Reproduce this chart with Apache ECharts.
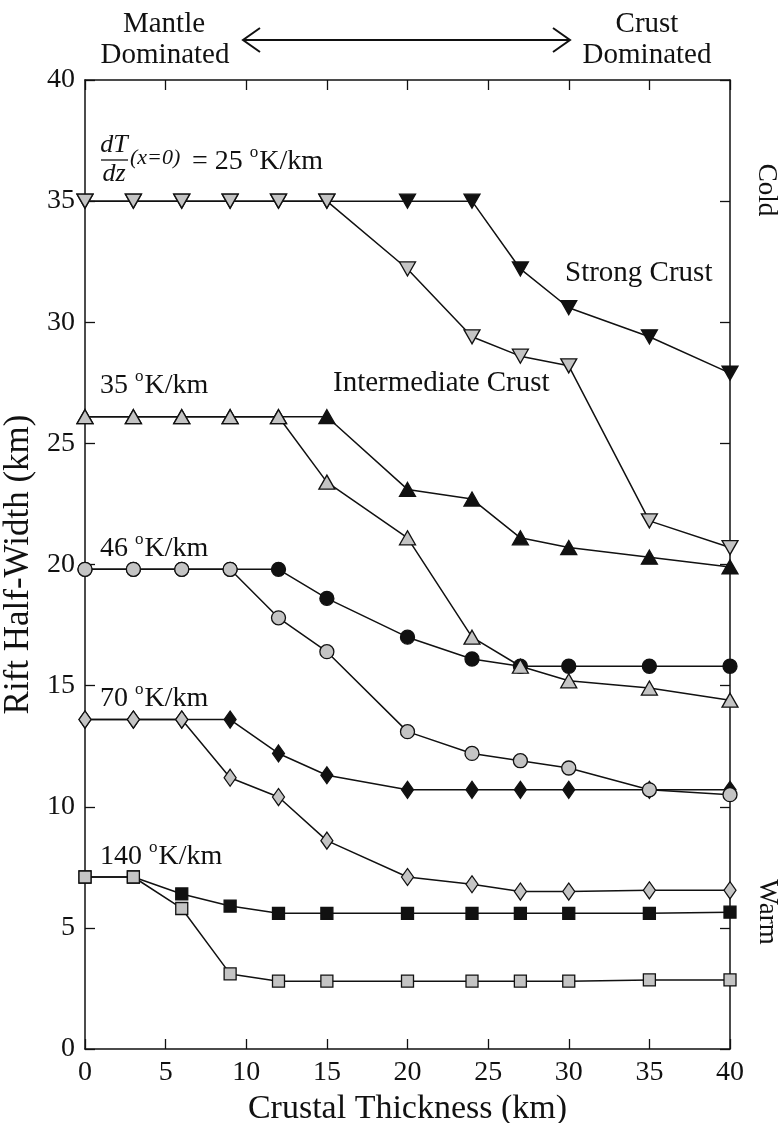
<!DOCTYPE html>
<html><head><meta charset="utf-8">
<script src="https://cdn.jsdelivr.net/npm/echarts@6/dist/echarts.min.js"></script>
<style>html,body{margin:0;padding:0;background:#fff}#c{width:783px;height:1123px}</style>
</head><body><div id="c"></div>
<script>
// Crustal thickness sampled by the models (km)
const thickness = [0, 3, 6, 9, 12, 15, 20, 24, 27, 30, 35, 40];
const yTicks = [0, 5, 10, 15, 20, 25, 30, 35, 40];

// Rift half-width (km) for each basal thermal gradient
const strong25 = [35, 35, 35, 35, 35, 35, 35, 35, 32.2, 30.6, 29.4, 27.9];
const inter25  = [35, 35, 35, 35, 35, 35, 32.2, 29.4, 28.6, 28.2, 21.8, 20.7];
const strong35 = [26.1, 26.1, 26.1, 26.1, 26.1, 26.1, 23.1, 22.7, 21.1, 20.7, 20.3, 19.9];
const inter35  = [26.1, 26.1, 26.1, 26.1, 26.1, 23.4, 21.1, 17.0, 15.8, 15.2, 14.9, 14.4];
const strong46 = [19.8, 19.8, 19.8, 19.8, 19.8, 18.6, 17.0, 16.1, 15.8, 15.8, 15.8, 15.8];
const inter46  = [19.8, 19.8, 19.8, 19.8, 17.8, 16.4, 13.1, 12.2, 11.9, 11.6, 10.7, 10.5];
const strong70 = [13.6, 13.6, 13.6, 13.6, 12.2, 11.3, 10.7, 10.7, 10.7, 10.7, 10.7, 10.7];
const inter70  = [13.6, 13.6, 13.6, 11.2, 10.4, 8.6, 7.1, 6.8, 6.5, 6.5, 6.55, 6.55];
const strong140 = [7.1, 7.1, 6.4, 5.9, 5.6, 5.6, 5.6, 5.6, 5.6, 5.6, 5.6, 5.65];
const inter140  = [7.1, 7.1, 5.8, 3.1, 2.8, 2.8, 2.8, 2.8, 2.8, 2.8, 2.85, 2.85];

const FAMILY = 'Liberation Serif';
const FONT = '"Liberation Serif", serif';
const GRAY = '#c4c4c4';
const INK = '#111';

function pairs(ys) { return thickness.map((x, i) => [x, ys[i]]); }

function curve(name, ys, symbol, size, fill, rotate) {
  return {
    name, type: 'line', data: pairs(ys),
    symbol, symbolSize: size, symbolRotate: rotate || 0,
    showAllSymbol: true,
    lineStyle: { color: INK, width: 1.5 },
    itemStyle: { color: fill, borderColor: INK, borderWidth: 1.3 },
    emphasis: { disabled: true },
    z: fill === GRAY ? 3 : 2
  };
}

const series = [
  curve('Strong 25', strong25, 'triangle', [16, 14], INK, 180),
  curve('Intermediate 25', inter25, 'triangle', [16, 14], GRAY, 180),
  curve('Strong 35', strong35, 'triangle', [16, 14], INK),
  curve('Intermediate 35', inter35, 'triangle', [16, 14], GRAY),
  curve('Strong 46', strong46, 'circle', 14, INK),
  curve('Intermediate 46', inter46, 'circle', 14, GRAY),
  curve('Strong 70', strong70, 'diamond', [12, 17], INK),
  curve('Intermediate 70', inter70, 'diamond', [12, 17], GRAY),
  curve('Strong 140', strong140, 'rect', 12, INK),
  curve('Intermediate 140', inter140, 'rect', 12, GRAY)
];

const axisCommon = {
  type: 'value', min: 0, max: 40, interval: 5,
  axisLine: { show: true, onZero: false, lineStyle: { color: INK, width: 1.5 } },
  axisTick: { show: true, inside: true, length: 10, lineStyle: { color: INK, width: 1.3 } },
  splitLine: { show: false }
};

const tickLabel = { fontFamily: FAMILY, fontSize: 28, color: INK, margin: 10 };

const txt = (x, y, text, size, extra) => ({
  type: 'text', x, y, z: 10,
  style: Object.assign({ text, font: `${size}px ${FONT}`, fill: INK }, extra || {})
});

// "NN °K/km" label with a raised small "o"
const gradLabel = (x, y, n) => ({
  type: 'text', x, y, z: 10,
  style: {
    text: `{n|${n} }{s|o}{n|K/km}`,
    textVerticalAlign: 'middle',
    rich: {
      n: { font: `28px ${FONT}`, fill: INK, lineHeight: 32, verticalAlign: 'bottom' },
      s: { font: `17px ${FONT}`, fill: INK, lineHeight: 32, verticalAlign: 'top', padding: [0, 1, 0, 0] }
    }
  }
});

const centered = { textAlign: 'center', textVerticalAlign: 'middle' };

const chart = echarts.init(document.getElementById('c'), null, { renderer: 'canvas' });
chart.setOption({
  backgroundColor: '#fff',
  animation: false,
  textStyle: { fontFamily: FAMILY },
  grid: { left: 85, right: 53, top: 80, bottom: 74, containLabel: false, outerBoundsMode: 'none' },
  xAxis: [
    Object.assign({}, axisCommon, {
      position: 'bottom',
      name: 'Crustal Thickness (km)', nameLocation: 'middle', nameGap: 36,
      nameTextStyle: { fontFamily: FAMILY, fontSize: 34, color: INK },
      axisLabel: Object.assign({}, tickLabel)
    }),
    Object.assign({}, axisCommon, { position: 'top', axisLabel: { show: false } })
  ],
  yAxis: [
    Object.assign({}, axisCommon, {
      position: 'left',
      name: 'Rift Half-Width (km)', nameLocation: 'middle', nameGap: 46,
      nameTextStyle: { fontFamily: FAMILY, fontSize: 35, color: INK },
      axisLabel: Object.assign({}, tickLabel, {
        formatter: v => yTicks.includes(v) ? String(v) : '' })
    }),
    Object.assign({}, axisCommon, { position: 'right', axisLabel: { show: false } })
  ],
  series,
  graphic: [
    txt(164, 24, 'Mantle', 29, centered),
    txt(165, 55, 'Dominated', 29, centered),
    txt(647, 24, 'Crust', 29, centered),
    txt(647, 55, 'Dominated', 29, centered),
    { type: 'line', z: 10, shape: { x1: 243, y1: 40, x2: 570, y2: 40 }, style: { stroke: INK, lineWidth: 2 } },
    { type: 'polyline', z: 10, shape: { points: [[260, 28], [243, 40], [260, 52]] }, style: { stroke: INK, lineWidth: 2, fill: null } },
    { type: 'polyline', z: 10, shape: { points: [[553, 28], [570, 40], [553, 52]] }, style: { stroke: INK, lineWidth: 2, fill: null } },
    // gradient formula label
    txt(114, 145, 'dT', 26, Object.assign({ font: `italic 26px ${FONT}` }, centered)),
    { type: 'line', z: 10, shape: { x1: 101, y1: 160, x2: 128, y2: 160 }, style: { stroke: INK, lineWidth: 1.3 } },
    txt(114, 174, 'dz', 26, Object.assign({ font: `italic 26px ${FONT}` }, centered)),
    txt(130, 158, '(x=0)', 22, { textVerticalAlign: 'middle', font: `italic 22px ${FONT}` }),
    gradLabel(192, 160, '= 25'),
    gradLabel(100, 384, '35'),
    gradLabel(100, 547, '46'),
    gradLabel(100, 697, '70'),
    gradLabel(100, 855, '140'),
    txt(565, 273, 'Strong Crust', 29, { textVerticalAlign: 'middle' }),
    txt(333, 383, 'Intermediate Crust', 29, { textVerticalAlign: 'middle' }),
    { type: 'text', x: 766, y: 190, rotation: -Math.PI / 2, z: 10,
      style: { text: 'Cold', font: `27px ${FONT}`, fill: INK, textAlign: 'center', textVerticalAlign: 'middle' } },
    { type: 'text', x: 767, y: 912, rotation: -Math.PI / 2, z: 10,
      style: { text: 'Warm', font: `27px ${FONT}`, fill: INK, textAlign: 'center', textVerticalAlign: 'middle' } }
  ]
});
</script>
</body></html>
